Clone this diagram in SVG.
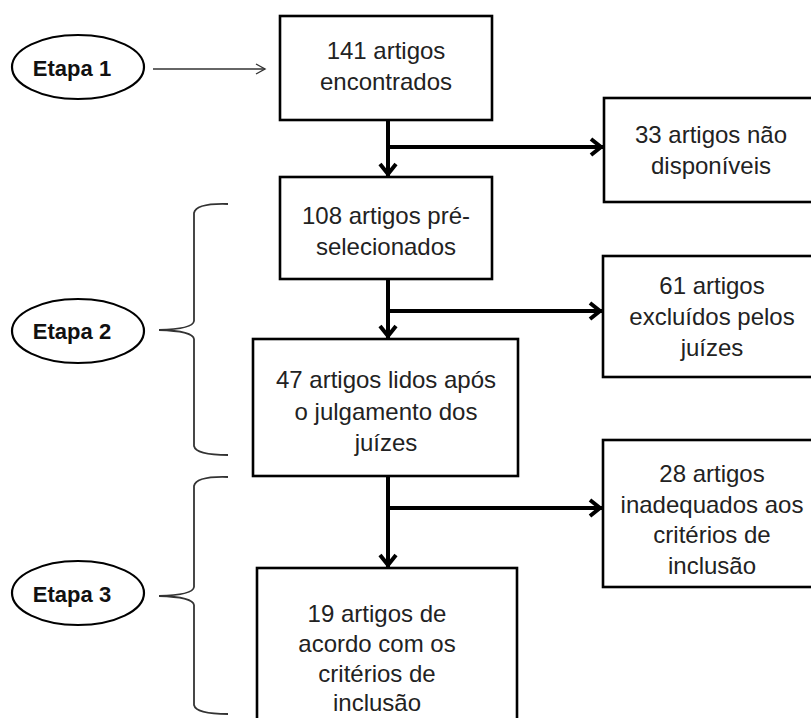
<svg xmlns="http://www.w3.org/2000/svg" width="811" height="718" viewBox="0 0 811 718">
<defs>
<style>
.box{fill:#fff;stroke:#000;stroke-width:2.6}
.t{font-family:"Liberation Sans",Arial,sans-serif;font-size:24px;fill:#222;text-anchor:middle}
.et{font-family:"Liberation Sans",Arial,sans-serif;font-size:22px;font-weight:bold;fill:#111;text-anchor:middle}
.ell{fill:#fff;stroke:#000;stroke-width:2.2}
.conn{fill:none;stroke:#000;stroke-width:4}
.thin{fill:none;stroke:#333;stroke-width:1.4}
.brace{fill:none;stroke:#333;stroke-width:1.8}
</style>
<marker id="ah" viewBox="-2 -2 18 20" refX="13" refY="8" markerWidth="18" markerHeight="20" orient="auto" markerUnits="userSpaceOnUse" overflow="visible">
<path d="M0,0 L10,8 L0,16" fill="none" stroke="#000" stroke-width="4"/>
</marker>
<marker id="ahs" viewBox="-2 -2 14 14" refX="9" refY="5" markerWidth="14" markerHeight="14" orient="auto" markerUnits="userSpaceOnUse" overflow="visible">
<path d="M0,0 L9,5 L0,10" fill="none" stroke="#333" stroke-width="1.4"/>
</marker>
</defs>
<rect width="811" height="718" fill="#fff"/>

<g id="connectors">
<line class="thin" x1="153" y1="69" x2="265" y2="69" marker-end="url(#ahs)"/>
<line class="conn" x1="388" y1="120" x2="388" y2="177" marker-end="url(#ah)"/>
<line class="conn" x1="388" y1="147" x2="604" y2="147" marker-end="url(#ah)"/>
<line class="conn" x1="388" y1="279" x2="388" y2="339" marker-end="url(#ah)"/>
<line class="conn" x1="388" y1="311" x2="603" y2="311" marker-end="url(#ah)"/>
<line class="conn" x1="388" y1="476" x2="388" y2="568" marker-end="url(#ah)"/>
<line class="conn" x1="388" y1="508" x2="603" y2="508" marker-end="url(#ah)"/>
</g>

<g id="braces">
<path class="brace" d="M228,204 Q196,203 194,213 L194,321 Q193,329 159,330 Q193,331 194,339 L194,446 Q196,455 228,455"/>
<path class="brace" d="M228,477 Q196,476 194,486 L194,587 Q193,595 159,596 Q193,597 194,605 L194,705 Q196,714 228,714"/>
</g>

<g id="etapa1">
<ellipse class="ell" cx="78" cy="67" rx="66" ry="32"/>
<text class="et" x="72" y="76">Etapa 1</text>
</g>
<g id="etapa2">
<ellipse class="ell" cx="78" cy="331" rx="66" ry="32"/>
<text class="et" x="72" y="339">Etapa 2</text>
</g>
<g id="etapa3">
<ellipse class="ell" cx="78" cy="593" rx="66" ry="32"/>
<text class="et" x="72" y="602">Etapa 3</text>
</g>

<g id="n141">
<rect class="box" x="280" y="16" width="212" height="104"/>
<text class="t" x="386" y="59">141 artigos</text>
<text class="t" x="386" y="90">encontrados</text>
</g>
<g id="n33">
<rect class="box" x="604" y="98" width="220" height="104"/>
<text class="t" x="711" y="143">33 artigos não</text>
<text class="t" x="711" y="174">disponíveis</text>
</g>
<g id="n108">
<rect class="box" x="280" y="177" width="212" height="102"/>
<text class="t" x="386" y="224">108 artigos pré-</text>
<text class="t" x="386" y="255">selecionados</text>
</g>
<g id="n61">
<rect class="box" x="603" y="256" width="220" height="121"/>
<text class="t" x="712" y="294">61 artigos</text>
<text class="t" x="712" y="325">excluídos pelos</text>
<text class="t" x="712" y="356">juízes</text>
</g>
<g id="n47">
<rect class="box" x="253" y="339" width="265" height="137"/>
<text class="t" x="386" y="388">47 artigos lidos após</text>
<text class="t" x="386" y="420">o julgamento dos</text>
<text class="t" x="386" y="451">juízes</text>
</g>
<g id="n28">
<rect class="box" x="603" y="440" width="220" height="147"/>
<text class="t" x="712" y="482">28 artigos</text>
<text class="t" x="712" y="513">inadequados aos</text>
<text class="t" x="712" y="543">critérios de</text>
<text class="t" x="712" y="574">inclusão</text>
</g>
<g id="n19">
<rect class="box" x="257" y="568" width="260" height="170"/>
<text class="t" x="377" y="622">19 artigos de</text>
<text class="t" x="377" y="652">acordo com os</text>
<text class="t" x="377" y="682">critérios de</text>
<text class="t" x="377" y="711">inclusão</text>
</g>
</svg>
